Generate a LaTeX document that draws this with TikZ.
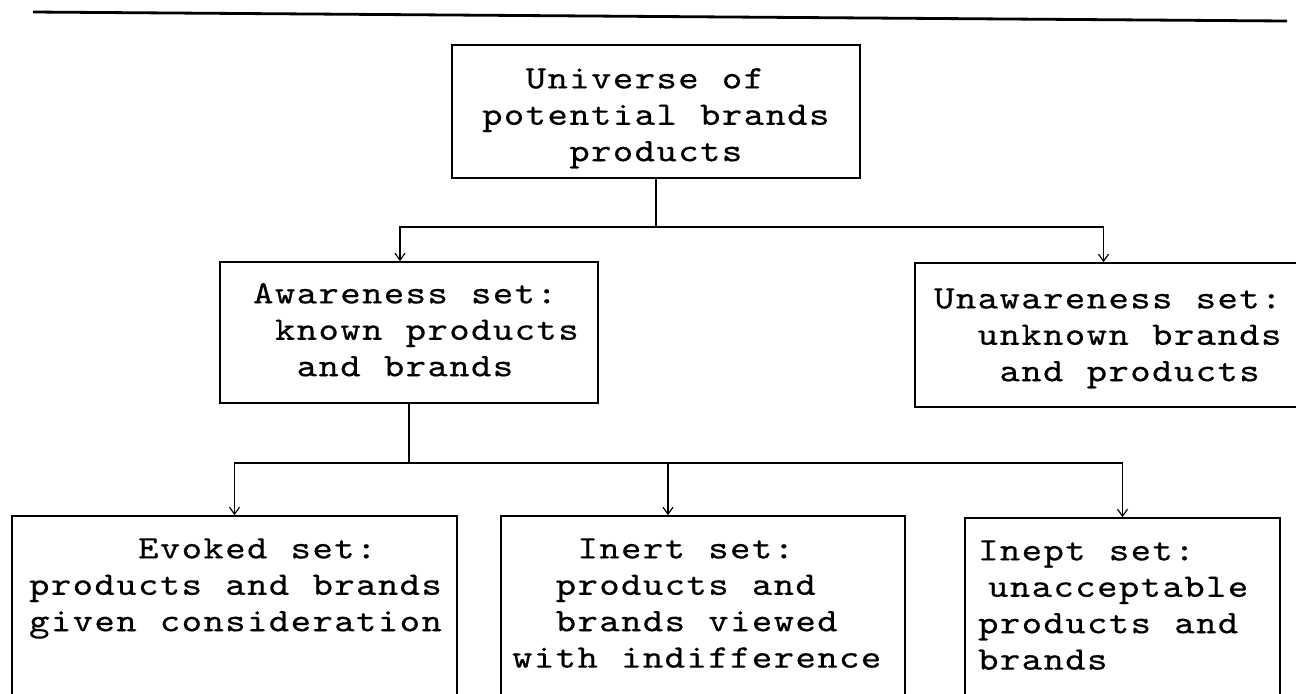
\documentclass[tikz,border=0pt]{standalone}
\usepackage{fontspec}
\usetikzlibrary{arrows.meta,fit}

% typewriter face, widened and darkened a little
\newfontfamily\twface{lmmono10-regular.otf}[FakeStretch=1.18, FakeBold=0.5]

% typewriter cells: every character sits in a box of fixed width
\newlength\cellw
\setlength\cellw{10.9pt}
\makeatletter
\newcommand\tline[1]{\strut\@tfor\tch:=#1\do{\makebox[\cellw]{\tch}}}
\makeatother
\newcommand\typer{\twface\fontsize{16.4pt}{18.2pt}\selectfont}

\tikzset{
  box/.style={draw, line width=0.8pt, inner sep=0pt},
  wire/.style={line width=0.6pt},
  arrowline/.style={wire, -{Straight Barb[length=3.5pt,width=5pt]}},
  lbl/.style={font=\typer, align=left, inner sep=0pt, anchor=north west},
  rulestyle/.style={line width=1.4pt}
}

\begin{document}
\begin{tikzpicture}[x=0.5pt, y=-0.5pt]
\useasboundingbox (0,0) rectangle (1296,693);

% heading rule
\coordinate (ruleL) at (33,12);
\coordinate (ruleR) at (1287,21);
\draw[rulestyle] (ruleL) -- (ruleR);

% boxes
\node[box, fit={(452,45) (860,178)}] (uni) {};
\node[box, fit={(220,262) (598,403)}] (aw) {};
\node[box, fit={(915,263) (1304,407)}] (unaw) {};
\node[box, fit={(12,516) (457,730)}] (ev) {};
\node[box, fit={(501,516) (905,730)}] (in) {};
\node[box, fit={(965,518) (1280,730)}] (ip) {};

% labels
\node[lbl] (unitxt) at (481,62.5)
  {\tline{~~Universe~of}\\\tline{potential~brands}\\\tline{~~~~products}};
\node[lbl] (awtxt) at (252,277.5)
  {\tline{Awareness~set:}\\\tline{~known~products}\\\tline{~~and~brands}};
\node[lbl] (unawtxt) at (933,282.5)
  {\tline{Unawareness~set:}\\\tline{~~unknown~brands}\\\tline{~~~and~products}};
\node[lbl] (evtxt) at (28,532.5)
  {\tline{~~~~~Evoked~set:}\\\tline{products~and~brands}\\\tline{given~consideration}};
\node[lbl] (intxt) at (511,532.5)
  {\tline{~~~Inert~set:}\\\tline{~~products~and}\\\tline{~~brands~viewed}\\\tline{with~indifference}};
\node[lbl] (iptxt) at (977,534.5)
  {\tline{Inept~set:}\\\hspace*{5pt}\tline{unacceptable}\\\tline{products~and}\\\tline{brands}};

% connectors
\coordinate (bus1) at (0,227);
\coordinate (bus2) at (0,463);
\draw[wire] (uni.south) -- (uni.south |- bus1);
\draw[arrowline] (uni.south |- bus1) -| ([xshift=-4.5pt]aw.north);
\draw[arrowline] (uni.south |- bus1) -| ([xshift=-3pt]unaw.north);

\draw[wire] (aw.south) -- (aw.south |- bus2);
\draw[arrowline] (aw.south |- bus2) -| (ev.north);
\draw[arrowline] (aw.south |- bus2) -| (ip.north);
\draw[arrowline] ([xshift=-17.5pt]in.north |- bus2) -- ([xshift=-17.5pt]in.north);
\end{tikzpicture}
\end{document}
